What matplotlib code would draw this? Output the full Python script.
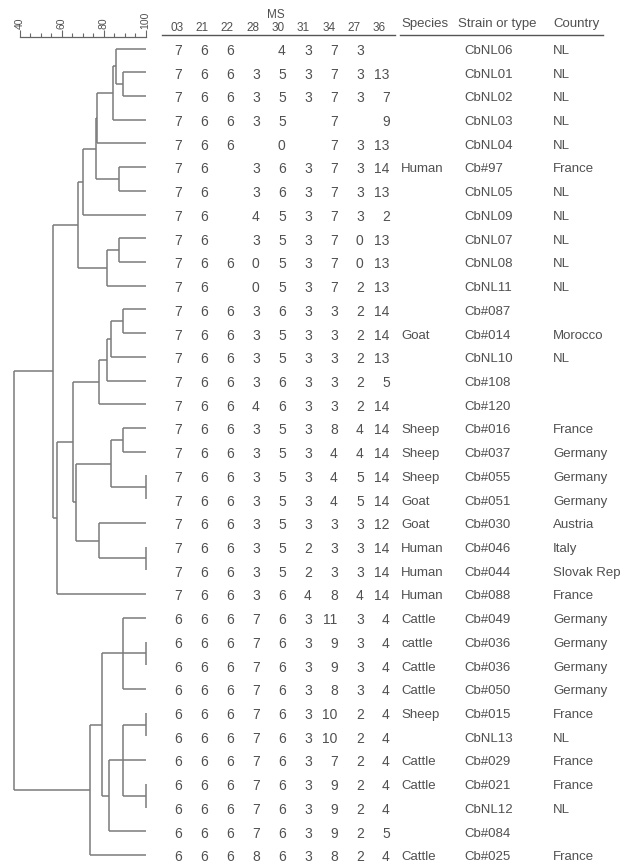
import matplotlib.pyplot as plt
import numpy as np

plt.rcParams['font.family'] = ['Liberation Sans', 'DejaVu Sans']

# MS loci (column headers)
loci = ['03', '21', '22', '28', '30', '31', '34', '27', '36']

# MS profiles, one row per strain (None = no value)
profiles = [
    [7, 6, 6, None, 4, 3, 7, 3, None],
    [7, 6, 6, 3, 5, 3, 7, 3, 13],
    [7, 6, 6, 3, 5, 3, 7, 3, 7],
    [7, 6, 6, 3, 5, None, 7, None, 9],
    [7, 6, 6, None, 0, None, 7, 3, 13],
    [7, 6, None, 3, 6, 3, 7, 3, 14],
    [7, 6, None, 3, 6, 3, 7, 3, 13],
    [7, 6, None, 4, 5, 3, 7, 3, 2],
    [7, 6, None, 3, 5, 3, 7, 0, 13],
    [7, 6, 6, 0, 5, 3, 7, 0, 13],
    [7, 6, None, 0, 5, 3, 7, 2, 13],
    [7, 6, 6, 3, 6, 3, 3, 2, 14],
    [7, 6, 6, 3, 5, 3, 3, 2, 14],
    [7, 6, 6, 3, 5, 3, 3, 2, 13],
    [7, 6, 6, 3, 6, 3, 3, 2, 5],
    [7, 6, 6, 4, 6, 3, 3, 2, 14],
    [7, 6, 6, 3, 5, 3, 8, 4, 14],
    [7, 6, 6, 3, 5, 3, 4, 4, 14],
    [7, 6, 6, 3, 5, 3, 4, 5, 14],
    [7, 6, 6, 3, 5, 3, 4, 5, 14],
    [7, 6, 6, 3, 5, 3, 3, 3, 12],
    [7, 6, 6, 3, 5, 2, 3, 3, 14],
    [7, 6, 6, 3, 5, 2, 3, 3, 14],
    [7, 6, 6, 3, 6, 4, 8, 4, 14],
    [6, 6, 6, 7, 6, 3, 11, 3, 4],
    [6, 6, 6, 7, 6, 3, 9, 3, 4],
    [6, 6, 6, 7, 6, 3, 9, 3, 4],
    [6, 6, 6, 7, 6, 3, 8, 3, 4],
    [6, 6, 6, 7, 6, 3, 10, 2, 4],
    [6, 6, 6, 7, 6, 3, 10, 2, 4],
    [6, 6, 6, 7, 6, 3, 7, 2, 4],
    [6, 6, 6, 7, 6, 3, 9, 2, 4],
    [6, 6, 6, 7, 6, 3, 9, 2, 4],
    [6, 6, 6, 7, 6, 3, 9, 2, 5],
    [6, 6, 6, 8, 6, 3, 8, 2, 4],
]

species = ['', '', '', '', '', 'Human', '', '', '', '', '', '', 'Goat', '', '', '',
           'Sheep', 'Sheep', 'Sheep', 'Goat', 'Goat', 'Human', 'Human', 'Human',
           'Cattle', 'cattle', 'Cattle', 'Cattle', 'Sheep', '', 'Cattle', 'Cattle',
           '', '', 'Cattle']

strains = ['CbNL06', 'CbNL01', 'CbNL02', 'CbNL03', 'CbNL04', 'Cb#97', 'CbNL05',
           'CbNL09', 'CbNL07', 'CbNL08', 'CbNL11', 'Cb#087', 'Cb#014', 'CbNL10',
           'Cb#108', 'Cb#120', 'Cb#016', 'Cb#037', 'Cb#055', 'Cb#051', 'Cb#030',
           'Cb#046', 'Cb#044', 'Cb#088', 'Cb#049', 'Cb#036', 'Cb#036', 'Cb#050',
           'Cb#015', 'CbNL13', 'Cb#029', 'Cb#021', 'CbNL12', 'Cb#084', 'Cb#025']

countries = ['NL', 'NL', 'NL', 'NL', 'NL', 'France', 'NL', 'NL', 'NL', 'NL', 'NL',
             '', 'Morocco', 'NL', '', '', 'France', 'Germany', 'Germany', 'Germany',
             'Austria', 'Italy', 'Slovak Rep', 'France', 'Germany', 'Germany',
             'Germany', 'Germany', 'France', 'NL', 'France', 'France', 'NL', '',
             'France']

# dendrogram merges: name, children (leaf index or merge name), similarity (%)
merges = [
    ('a1', [1, 2], 89.3),
    ('a2', [0, 'a1'], 85.8),
    ('a3', ['a2', 3], 84.2),
    ('a4', ['a3', 4], 76.75),
    ('a5', [5, 6], 87.4),
    ('a6', ['a4', 'a5'], 76.4),
    ('a7', ['a6', 7], 69.9),
    ('a8', [8, 9], 87.4),
    ('a9', ['a8', 10], 81.4),
    ('A', ['a7', 'a9'], 67.8),
    ('b1', [11, 12], 89.3),
    ('b2', ['b1', 13], 83.2),
    ('b3', ['b2', 14], 81.7),
    ('b4', ['b3', 15], 77.85),
    ('c1', [16, 17], 89.3),
    ('c2', [18, 19], 100),
    ('c3', ['c1', 'c2'], 83.3),
    ('c4', [21, 22], 100),
    ('c5', [20, 'c4'], 77.85),
    ('c6', ['c3', 'c5'], 66.7),
    ('b5', ['b4', 'c6'], 65.2),
    ('b6', ['b5', 23], 57.5),
    ('AB', ['A', 'b6'], 55.9),
    ('d1', [25, 26], 100),
    ('d2', [24, 'd1', 27], 89.3),
    ('d3', [28, 29], 100),
    ('d4', [31, 32], 100),
    ('d5', ['d3', 30, 'd4'], 89.3),
    ('d6', ['d5', 33], 82.6),
    ('d7', ['d2', 'd6'], 79.0),
    ('D', ['d7', 34], 73.4),
    ('root', ['AB', 'D'], 37.1),
]

W, H = 632, 865
Y0, DY = 48.5, 23.72   # pixel row of first leaf, row spacing


def py(px):
    # pixel height -> row units
    return (px - Y0) / DY


txt = '#505050'
line_c = '#7a7a7a'
toff = 0.1  # text sits a touch below the leaf lines

fig = plt.figure(figsize=(W / 100, H / 100), dpi=100)

# ---- dendrogram ----
ax = fig.add_axes([20 / W, 0, 125.7 / W, (H - 37) / H])
ax.set_xlim(40, 100)
ax.set_ylim(py(H), py(37))

pos = {}
for name, kids, h in merges:
    ys, hs = [], []
    for k in kids:
        if isinstance(k, str):
            y, hk = pos[k]
        else:
            y, hk = k, 100
        ys.append(y)
        hs.append(hk)
        ax.plot([hk, h], [y, y], color=line_c, lw=1.1, clip_on=False,
                solid_capstyle='butt')
    ax.plot([h, h], [min(ys), max(ys)], color=line_c, lw=1.1, clip_on=False,
            solid_capstyle='butt')
    pos[name] = ((min(ys) + max(ys)) / 2, h)

for s in ['left', 'right', 'bottom']:
    ax.spines[s].set_visible(False)
ax.spines['top'].set_color('#666666')
ax.spines['top'].set_linewidth(0.9)
ax.xaxis.tick_top()
ax.set_xticks([40, 60, 80, 100])
ax.set_xticks(np.arange(40, 101, 5), minor=True)
ax.tick_params(axis='x', which='major', length=5, width=0.8, color='#666666',
               labelsize=7.5, labelcolor=txt, labelrotation=90, pad=1)
ax.tick_params(axis='x', which='minor', length=3, width=0.8, color='#666666')
ax.set_yticks([])

# ---- table ----
tb = fig.add_axes([0, 0, 1, 1])
tb.set_xlim(0, W)
tb.set_ylim(py(H), py(0))
tb.axis('off')

col_right = 181.7 + 26 * np.arange(len(loci))
head_x = 176.7 + 25.33 * np.arange(len(loci))

tb.text(276, py(18.5), 'MS', ha='center', va='baseline', fontsize=8.5, color=txt)
for x, lab in zip(head_x, loci):
    tb.text(x, py(30.7), lab, ha='center', va='baseline', fontsize=8.5, color=txt)
tb.plot([162, 395], [py(35), py(35)], color='#555555', lw=1.0)

tb.text(401, py(27.3), 'Species', ha='left', va='baseline', fontsize=9.5, color=txt)
tb.text(458, py(27.3), 'Strain or type', ha='left', va='baseline', fontsize=9.5, color=txt)
tb.text(553, py(27.3), 'Country', ha='left', va='baseline', fontsize=9.5, color=txt)
tb.plot([400, 603], [py(35), py(35)], color='#555555', lw=1.0)

for i, row in enumerate(profiles):
    for x, v in zip(col_right, row):
        if v is not None:
            tb.text(x, i + toff, str(v), ha='right', va='center', fontsize=10, color=txt)
    tb.text(401, i + toff, species[i], ha='left', va='center', fontsize=9.5, color=txt)
    tb.text(464, i + toff, strains[i], ha='left', va='center', fontsize=9.5, color=txt)
    tb.text(553, i + toff, countries[i], ha='left', va='center', fontsize=9.5, color=txt)

fig.savefig('out.png', dpi=100)
